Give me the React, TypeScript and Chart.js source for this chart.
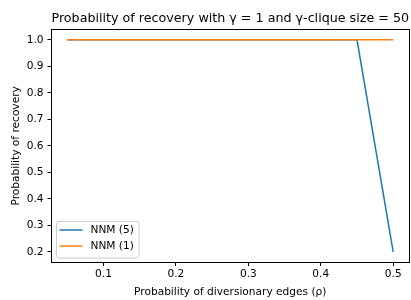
import React, { useEffect, useRef } from "react";
import { Chart, registerables } from "chart.js";

Chart.register(...registerables);

const rhoValues = [0.05, 0.1, 0.15, 0.2, 0.25, 0.3, 0.35, 0.4, 0.45, 0.5];
const nnm5 = [1.0, 1.0, 1.0, 1.0, 1.0, 1.0, 1.0, 1.0, 1.0, 0.2];
const nnm1 = [1.0, 1.0, 1.0, 1.0, 1.0, 1.0, 1.0, 1.0, 1.0, 1.0];
const seriesLabels = ["NNM (5)", "NNM (1)"];
const seriesColors = ["#1f77b4", "#ff7f0e"];
const xTicks = [0.1, 0.2, 0.3, 0.4, 0.5];
const yTicks = [0.2, 0.3, 0.4, 0.5, 0.6, 0.7, 0.8, 0.9, 1.0];
const titleText = "Probability of recovery with \u03b3 = 1 and \u03b3-clique size = 50";
const xTitle = "Probability of diversionary edges (\u03c1)";
const yTitle = "Probability of recovery";

const FONT = "'DejaVu Sans', sans-serif";
const SMALL = 10.6;
const BIG = 12.7;

const framePlugin = {
  id: "frameAndLegend",
  afterDatasetsDraw(chart: any) {
    const { ctx, chartArea } = chart;
    const l = Math.floor(chartArea.left) + 0.5;
    const t = Math.floor(chartArea.top) + 0.5;
    const r = Math.floor(chartArea.right) + 0.5;
    const b = Math.floor(chartArea.bottom) + 0.5;
    ctx.save();
    ctx.strokeStyle = "#000";
    ctx.lineWidth = 1;
    ctx.strokeRect(l, t, r - l, b - t);

    // legend (lower left)
    const lx = chartArea.left + 5.5;
    const lw = 82.5;
    const lh = 36.5;
    const ly = chartArea.bottom - 4.5 - lh;
    const rad = 2.5;
    ctx.beginPath();
    ctx.moveTo(lx + rad, ly);
    ctx.lineTo(lx + lw - rad, ly);
    ctx.arcTo(lx + lw, ly, lx + lw, ly + rad, rad);
    ctx.lineTo(lx + lw, ly + lh - rad);
    ctx.arcTo(lx + lw, ly + lh, lx + lw - rad, ly + lh, rad);
    ctx.lineTo(lx + rad, ly + lh);
    ctx.arcTo(lx, ly + lh, lx, ly + lh - rad, rad);
    ctx.lineTo(lx, ly + rad);
    ctx.arcTo(lx, ly, lx + rad, ly, rad);
    ctx.closePath();
    ctx.fillStyle = "rgba(255,255,255,0.8)";
    ctx.fill();
    ctx.strokeStyle = "#cccccc";
    ctx.stroke();

    ctx.font = `${SMALL}px ${FONT}`;
    ctx.textAlign = "left";
    ctx.textBaseline = "middle";
    seriesLabels.forEach((lab, i) => {
      const yy = ly + 8.5 + i * 16;
      ctx.strokeStyle = seriesColors[i];
      ctx.lineWidth = 1.5;
      ctx.beginPath();
      ctx.moveTo(lx + 3, yy);
      ctx.lineTo(lx + 26, yy);
      ctx.stroke();
      ctx.fillStyle = "#000";
      ctx.fillText(lab, lx + 34, yy + 0.5);
    });
    ctx.restore();
  },
};

export default function App() {
  const ref = useRef<HTMLCanvasElement | null>(null);

  useEffect(() => {
    document.body.style.margin = "0";
    const canvas = ref.current;
    if (!canvas) return;
    const chart = new Chart(canvas, {
      type: "line",
      data: {
        datasets: [
          {
            label: seriesLabels[0],
            data: rhoValues.map((x, i) => ({ x, y: nnm5[i] })),
            borderColor: seriesColors[0],
            backgroundColor: seriesColors[0],
            borderWidth: 1.5,
            pointRadius: 0,
            tension: 0,
            order: 1,
          },
          {
            label: seriesLabels[1],
            data: rhoValues.map((x, i) => ({ x, y: nnm1[i] })),
            borderColor: seriesColors[1],
            backgroundColor: seriesColors[1],
            borderWidth: 1.5,
            pointRadius: 0,
            tension: 0,
            order: 0,
          },
        ],
      },
      options: {
        animation: false,
        responsive: false,
        devicePixelRatio: 1,
        layout: { padding: { left: 0, right: 1.5, top: 0, bottom: 0 } },
        plugins: {
          legend: { display: false },
          tooltip: { enabled: false },
          title: {
            display: true,
            text: titleText,
            fullSize: false,
            color: "#000",
            font: { family: FONT, size: BIG, weight: "normal" },
            padding: { top: 11, bottom: 3 },
          },
        },
        scales: {
          x: {
            type: "linear",
            min: 0.0275,
            max: 0.5225,
            afterBuildTicks: (scale: any) => {
              scale.ticks = xTicks.map((v) => ({ value: v }));
            },
            afterFit: (scale: any) => {
              scale.height = 37.5;
            },
            ticks: {
              color: "#000",
              font: { family: FONT, size: SMALL },
              padding: 2,
              maxRotation: 0,
              autoSkip: false,
              callback: (v: any) => Number(v).toFixed(1),
            },
            grid: {
              drawOnChartArea: false,
              drawTicks: true,
              tickLength: 3.5,
              tickColor: "#000",
            },
            border: { display: true, color: "#000" },
            title: {
              display: true,
              text: xTitle,
              color: "#000",
              font: { family: FONT, size: SMALL },
              padding: { top: 0, bottom: 1.5 },
            },
          },
          y: {
            type: "linear",
            min: 0.16,
            max: 1.04,
            afterBuildTicks: (scale: any) => {
              scale.ticks = yTicks.map((v) => ({ value: v }));
            },
            afterFit: (scale: any) => {
              scale.width = 51;
            },
            ticks: {
              color: "#000",
              font: { family: FONT, size: SMALL },
              padding: 4,
              autoSkip: false,
              callback: (v: any) => Number(v).toFixed(1),
            },
            grid: {
              drawOnChartArea: false,
              drawTicks: true,
              tickLength: 3.5,
              tickColor: "#000",
            },
            border: { display: true, color: "#000" },
            title: {
              display: true,
              text: yTitle,
              color: "#000",
              font: { family: FONT, size: SMALL },
              padding: { top: 9.5, bottom: 0 },
            },
          },
        },
      },
      plugins: [framePlugin],
    } as any);
    return () => chart.destroy();
  }, []);

  return (
    <div style={{ width: 411, height: 300 }}>
      <canvas ref={ref} width={411} height={300} style={{ display: "block" }} />
    </div>
  );
}
